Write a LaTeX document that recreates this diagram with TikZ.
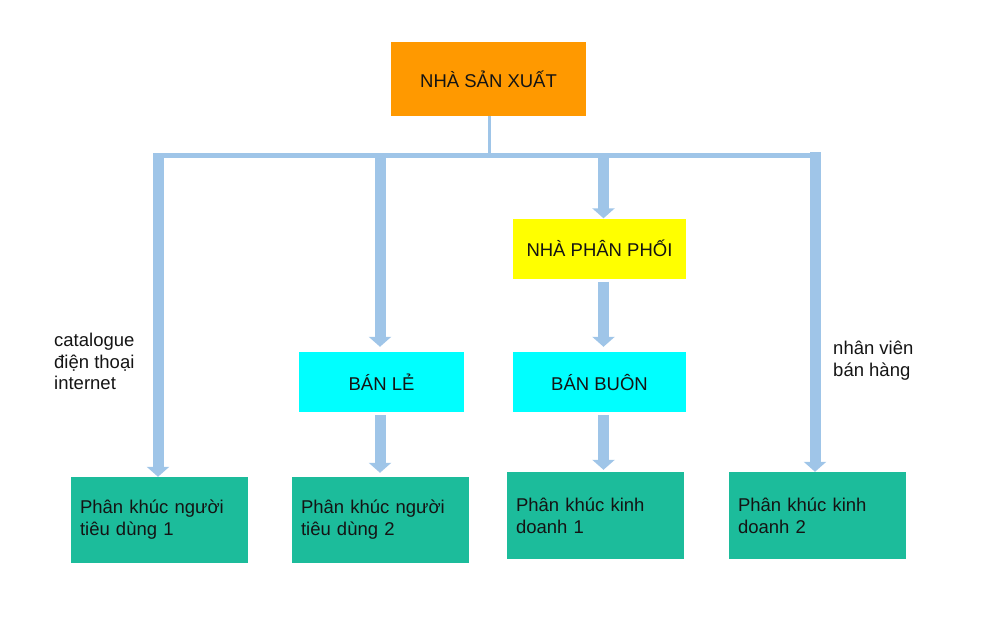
\documentclass[tikz,border=0pt]{standalone}
\usepackage{fontspec}
\setmainfont{Liberation Sans}
\usetikzlibrary{arrows.meta,calc}
\definecolor{arrblue}{HTML}{9FC5E8}
\definecolor{orangebox}{HTML}{FF9900}
\definecolor{yellowbox}{HTML}{FFFF00}
\definecolor{cyanbox}{HTML}{00FFFF}
\definecolor{tealbox}{HTML}{1CBC9B}
\definecolor{txt}{HTML}{141414}
\tikzset{
  boxtext/.style={font=\fontsize{18.5}{22}\selectfont, text=txt},
  topbox/.style={boxtext, fill=#1, minimum width=173pt, minimum height=60pt, inner sep=0pt, align=center},
  segbox/.style={boxtext, fill=tealbox, minimum width=177pt, minimum height=86pt, text width=159pt, inner xsep=9pt, inner ysep=0pt, align=left},
  flow/.style={draw=arrblue, line width=11pt, -{Triangle[width=22pt,length=10pt]}},
  sidelabel/.style={font=\fontsize{18.5}{21.5}\selectfont, text=txt, inner sep=0pt, align=left, anchor=west},
}
\begin{document}
\begin{tikzpicture}[x=1pt,y=-1pt]
\useasboundingbox (0,0) rectangle (1000,624);
% boxes
\node[topbox=orangebox, minimum width=195pt, minimum height=74pt] (nsx) at (488.5,79) {NHÀ SẢN XUẤT};
\node[topbox=yellowbox] (npp) at (599.5,248.5) {NHÀ PHÂN PHỐI};
\node[topbox=cyanbox, minimum width=165pt] (bl) at (381.5,382) {BÁN LẺ};
\node[topbox=cyanbox] (bb) at (599.5,382) {BÁN BUÔN};
\node[segbox] (pk1) at (159.5,520) {Phân khúc người\\tiêu dùng 1};
\node[segbox] (pk2) at (380.5,520) {Phân khúc người\\tiêu dùng 2};
\node[segbox, minimum height=87pt] (kd1) at (595.5,515.5) {Phân khúc kinh\\doanh 1};
\node[segbox, minimum height=87pt] (kd2) at (817.5,515.5) {Phân khúc kinh\\doanh 2};
% bar coordinates
\coordinate (barL) at (153,155.5);
\coordinate (barR) at (820,155.5);
\coordinate (stem) at (489.5,155.5);
\coordinate (j1) at (158,153);
\coordinate (j2) at (380,153);
\coordinate (j3) at (603.5,153);
\coordinate (j4) at (815,152);
% connectors
\draw[draw=arrblue, line width=3pt] (nsx.south -| stem) -- (stem);
\draw[draw=arrblue, line width=4.5pt] (barL) -- (barR);
\draw[flow] (j1) -- (j1 |- pk1.north);
\draw[flow, shorten >=5pt] (j2) -- (j2 |- bl.north);
\draw[flow] (j3) -- (j3 |- npp.north);
\draw[flow] (j4) -- (j4 |- kd2.north);
\draw[flow, shorten >=5pt] ([yshift=-3pt]npp.south -| j3) -- (j3 |- bb.north);
\draw[flow, shorten >=4pt] ([yshift=-3pt]bl.south -| j2) -- (j2 |- pk2.north);
\draw[flow, shorten >=2pt] ([yshift=-3pt]bb.south -| j3) -- (j3 |- kd1.north);
% side labels
\node[sidelabel] (lab1) at (54,361.5) {catalogue\\điện thoại\\internet};
\node[sidelabel] (lab2) at (833,360.5) {nhân viên\\bán hàng};
\end{tikzpicture}
\end{document}
